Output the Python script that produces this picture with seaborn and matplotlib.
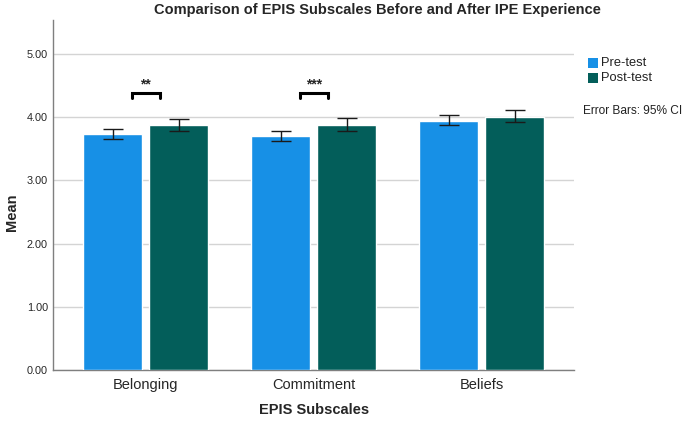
import matplotlib
matplotlib.use("Agg")
import matplotlib.pyplot as plt
import seaborn as sns
import pandas as pd
import numpy as np
from matplotlib.patches import Rectangle

subscales = ["Belonging", "Commitment", "Beliefs"]
groups = ["Pre-test", "Post-test"]
pre_means = [3.73, 3.70, 3.94]
post_means = [3.88, 3.88, 4.01]
pre_lo = [3.65, 3.62, 3.87]
pre_hi = [3.82, 3.78, 4.03]
post_lo = [3.78, 3.78, 3.92]
post_hi = [3.97, 3.98, 4.12]
sig_labels = ["**", "***", ""]
colors = ["#1790e6", "#035e5a"]

df = pd.DataFrame({
    "Subscale": subscales * 2,
    "Group": [groups[0]] * 3 + [groups[1]] * 3,
    "Mean": pre_means + post_means,
    "lo": pre_lo + post_lo,
    "hi": pre_hi + post_hi,
})

sns.set_theme(style="white")
plt.rcParams["font.family"] = ["Liberation Sans", "DejaVu Sans"]

fig = plt.figure(figsize=(6.85, 4.22), dpi=100)
ax = fig.add_axes([0.078, 0.123, 0.760, 0.830])

sns.barplot(data=df, x="Subscale", y="Mean", hue="Group", order=subscales,
            hue_order=groups, palette=colors, width=0.786, gap=0.106,
            errorbar=None, saturation=1, legend=False, ax=ax, zorder=3)

# error bars
for gi, g in enumerate(groups):
    sub = df[df["Group"] == g]
    for si, s in enumerate(subscales):
        r = sub[sub["Subscale"] == s].iloc[0]
        p = ax.patches[gi * 3 + si]
        cx = p.get_x() + p.get_width() / 2
        ax.errorbar(cx, r["Mean"], yerr=[[r["Mean"] - r["lo"]], [r["hi"] - r["Mean"]]],
                    fmt="none", ecolor="#1a1a1a", elinewidth=1.0, capsize=7, capthick=1.0, zorder=4)

# significance brackets
for si, lab in enumerate(sig_labels):
    if not lab:
        continue
    x0, x1 = si - 0.083, si + 0.083
    ax.plot([x0, x0, x1, x1], [4.30, 4.38, 4.38, 4.30], color="black", lw=2.2,
            solid_joinstyle="miter", zorder=5)
    ax.text(si, 4.52, lab, ha="center", va="center", fontsize=10, fontweight="bold")

ax.set_xlim(-0.55, 2.55)
ax.set_ylim(0, 5.54)
ax.set_yticks([0, 1, 2, 3, 4, 5])
ax.set_yticklabels([f"{v:.2f}" for v in [0, 1, 2, 3, 4, 5]], fontsize=7.8)
ax.tick_params(axis="x", labelsize=10.5, length=0, pad=6)
ax.tick_params(axis="y", length=0, pad=4)
ax.yaxis.grid(True, color="#d4d4d4", lw=1.0, zorder=0)
ax.set_axisbelow(True)
for s in ["top", "right"]:
    ax.spines[s].set_visible(False)
for s in ["left", "bottom"]:
    ax.spines[s].set_color("#7f7f7f")
    ax.spines[s].set_linewidth(1.0)

ax.set_xlabel("EPIS Subscales", fontsize=10.5, fontweight="bold")
ax.set_ylabel("Mean", fontsize=10.5, fontweight="bold")
ax.xaxis.set_label_coords(0.5, -0.114)
ax.yaxis.set_label_coords(-0.080, 0.45)
ax.xaxis.label.set_va("center")
ax.yaxis.label.set_va("center")

fig.text(0.551, 0.976, "Comparison of EPIS Subscales Before and After IPE Experience",
         ha="center", va="center", fontsize=10.5, fontweight="bold")

# legend
for i, (g, c) in enumerate(zip(groups, colors)):
    yc = 63 + i * 15
    fig.patches.append(Rectangle((588 / 685, (422 - yc - 5) / 422), 10 / 685, 10 / 422,
                                 transform=fig.transFigure, facecolor=c, edgecolor="none"))
    fig.text(601 / 685, (422 - yc) / 422, g, ha="left", va="center", fontsize=9.3, color="#222222")
fig.text(583 / 685, (422 - 111) / 422, "Error Bars: 95% CI", ha="left", va="center",
         fontsize=8.6, color="#222222")

fig.savefig("out.png", dpi=100)
